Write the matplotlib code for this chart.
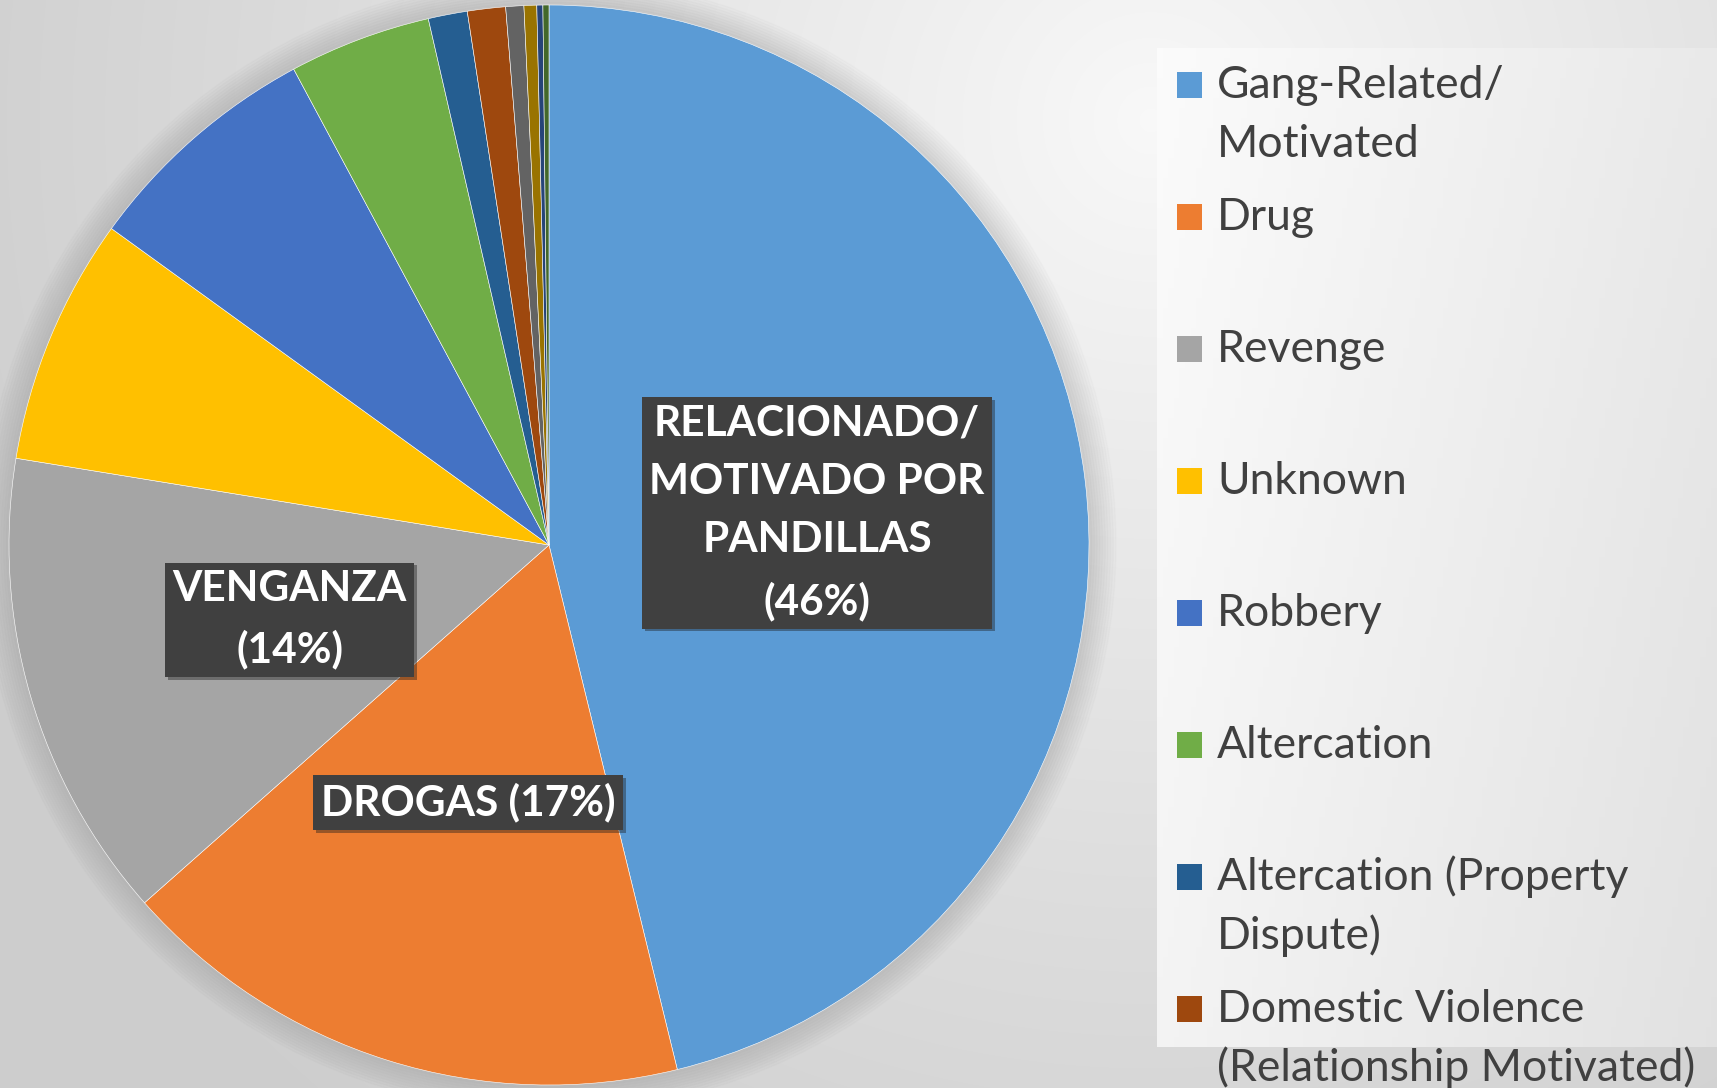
import numpy as np
import matplotlib
matplotlib.use("Agg")
import matplotlib.pyplot as plt
from matplotlib.patches import Rectangle
from matplotlib import patheffects as pe

# data (percent of homicides by motive)
categories = ["Gang-Related/\nMotivated", "Drug", "Revenge", "Unknown", "Robbery",
              "Altercation", "Altercation (Property\nDispute)",
              "Domestic Violence\n(Relationship Motivated)",
              "Other 1", "Other 2", "Other 3", "Other 4"]
shares = [46.2, 17.3, 14.1, 7.4, 7.2, 4.25, 1.17, 1.14, 0.54, 0.38, 0.18, 0.18]
colors = ["#5B9BD5", "#ED7D31", "#A5A5A5", "#FFC000", "#4472C4", "#70AD47",
          "#255E91", "#9E480E", "#636363", "#997300", "#264478", "#43682B"]
legend_shown = 8  # the rest of the legend runs off the slide
# spanish data labels for the biggest slices
label_idx = [0, 1, 2]
label_text = ["RELACIONADO/\nMOTIVADO POR\nPANDILLAS\n(46%)", "DROGAS (17%)", "VENGANZA\n(14%)"]

W, H = 1717, 1088
dpi = 100
fig = plt.figure(figsize=(W / dpi, H / dpi), dpi=dpi)


def fx(x):
    return x / W


def fy(y):
    return 1 - y / H


# background radial gradient
bg = fig.add_axes([0, 0, 1, 1])
bg.set_axis_off()
yy, xx = np.mgrid[0:H, 0:W]
d = np.sqrt((xx - 1150.0) ** 2 + (yy - 120.0) ** 2)
v = 0.975 - 0.17 * np.clip(d / 1300.0, 0, 1) ** 0.9
bg.imshow(np.dstack([v, v, v]), extent=[0, W, H, 0], aspect="auto", zorder=0)
bg.set_xlim(0, W)
bg.set_ylim(H, 0)

# legend panel (linear gradient)
lx0, ly0, lx1, ly1 = 1157, 48, 1717, 1047
gy, gx = np.mgrid[0:100, 0:100] / 99.0
g = 0.985 - 0.10 * (0.7 * gx + 0.3 * gy)
bg.imshow(np.dstack([g, g, g]), extent=[lx0, lx1, ly1, ly0], aspect="auto", zorder=1)

# pie
cx, cy, r = 549, 545, 540
ax = fig.add_axes([fx(cx - r), fy(cy + r), 2 * r / W, 2 * r / H])
ax.set_axis_off()
# soft shadow round the pie
for k in range(10):
    halo = plt.Circle((0, 0), 1.0 + 0.005 * (k + 1), color="#707070", alpha=0.025,
                      zorder=0, clip_on=False)
    ax.add_patch(halo)
wedges, _ = ax.pie(shares, colors=colors, startangle=90, counterclock=False,
                   wedgeprops=dict(edgecolor="white", linewidth=0.4))
ax.set_xlim(-1, 1)
ax.set_ylim(-1, 1)

for i, txt in zip(label_idx, label_text):
    w = wedges[i]
    ang = np.deg2rad((w.theta1 + w.theta2) / 2)
    t = ax.text(0.5 * np.cos(ang), 0.5 * np.sin(ang), txt, ha="center", va="center",
                color="white", fontsize=30.5, fontweight="bold", family="Lato",
                linespacing=1.66, zorder=5,
                bbox=dict(boxstyle="square,pad=0.18", fc="#404040", ec="none"))
    t.get_bbox_patch().set_path_effects([
        pe.SimplePatchShadow(offset=(2, -2), shadow_rgbFace="#1a1a1a", alpha=0.4),
        pe.Normal()])

# legend drawn by hand to keep the wide fixed spacing
for k in range(legend_shown):
    yb = 98 + 132 * k
    fig.patches.append(Rectangle((fx(1177), fy(yb)), 25 / W, 26 / H,
                                 transform=fig.transFigure, fc=colors[k], ec="none",
                                 zorder=3))
    for j, line in enumerate(categories[k].split("\n")):
        fig.text(fx(1217), fy(yb + 59 * j), line, ha="left", va="baseline",
                 fontsize=32, family="Lato", color="#404040", zorder=4)

fig.savefig("out.png", dpi=dpi)
